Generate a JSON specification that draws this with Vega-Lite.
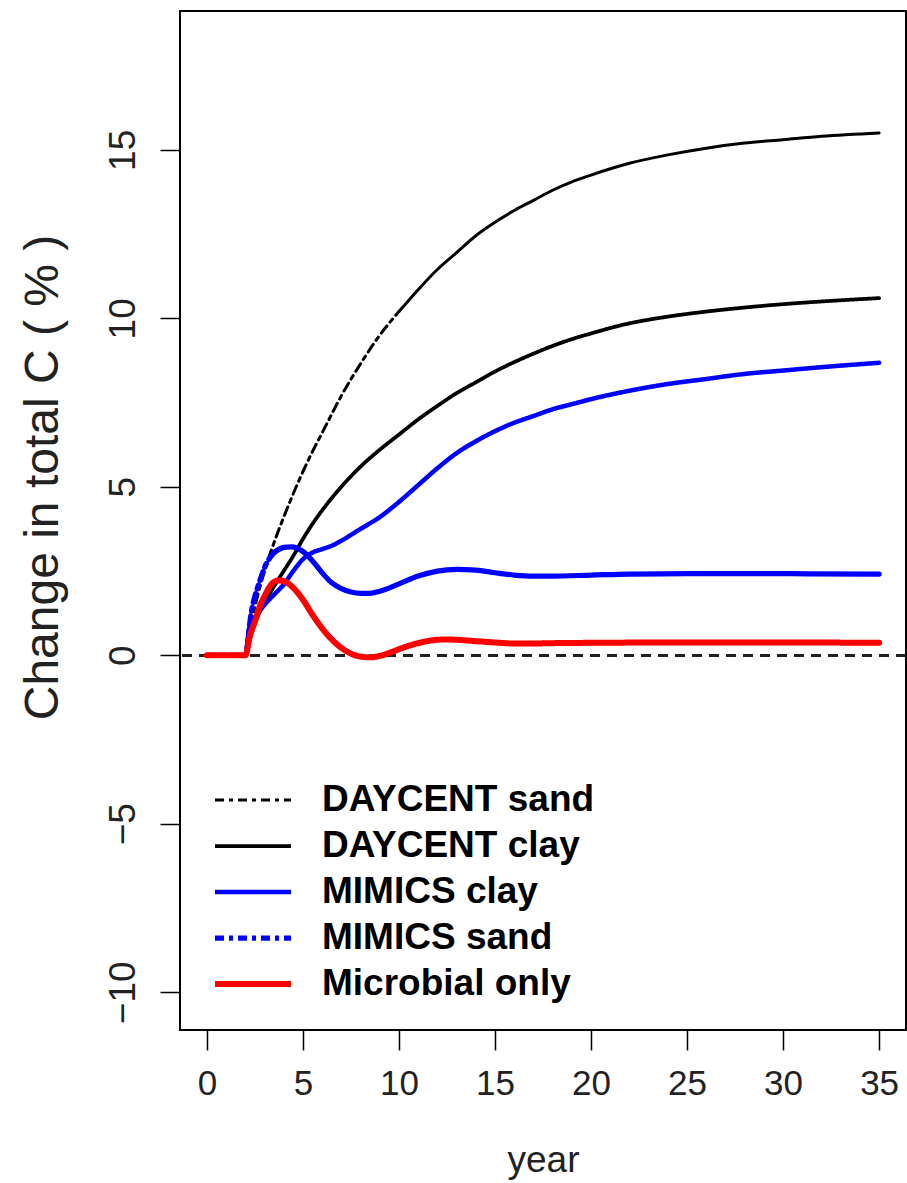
{
"$schema": "https://vega.github.io/schema/vega-lite/v6.json",
"width": 726, "height": 1019,
"autosize": {"type": "none"},
"padding": {"left": 180, "top": 11, "right": 1, "bottom": 153},
"background": "white",
"config": {"view": {"stroke": "black", "strokeWidth": 2}, "font": "Liberation Sans"},
"data": {"values": [
{"s":"DAYCENT sand","g":"a","x":0,"y":0},{"s":"DAYCENT sand","g":"a","x":1,"y":0},{"s":"DAYCENT sand","g":"a","x":2,"y":0},{"s":"DAYCENT sand","g":"a","x":2.25,"y":0.8},{"s":"DAYCENT sand","g":"a","x":2.5,"y":1.45},{"s":"DAYCENT sand","g":"a","x":2.75,"y":2.0},{"s":"DAYCENT sand","g":"a","x":3,"y":2.5},{"s":"DAYCENT sand","g":"a","x":3.5,"y":3.35},{"s":"DAYCENT sand","g":"a","x":4,"y":4.1},{"s":"DAYCENT sand","g":"a","x":4.5,"y":4.8},{"s":"DAYCENT sand","g":"a","x":5,"y":5.45},{"s":"DAYCENT sand","g":"a","x":5.5,"y":6.05},{"s":"DAYCENT sand","g":"a","x":6,"y":6.6},{"s":"DAYCENT sand","g":"a","x":7,"y":7.7},{"s":"DAYCENT sand","g":"a","x":8,"y":8.65},{"s":"DAYCENT sand","g":"a","x":9,"y":9.5},{"s":"DAYCENT sand","g":"a","x":10,"y":10.2},
{"s":"DAYCENT sand","g":"b","x":10,"y":10.2},{"s":"DAYCENT sand","g":"b","x":11,"y":10.85},{"s":"DAYCENT sand","g":"b","x":12,"y":11.45},{"s":"DAYCENT sand","g":"b","x":13,"y":11.95},{"s":"DAYCENT sand","g":"b","x":14,"y":12.45},{"s":"DAYCENT sand","g":"b","x":15,"y":12.85},{"s":"DAYCENT sand","g":"b","x":16,"y":13.2},{"s":"DAYCENT sand","g":"b","x":17,"y":13.5},{"s":"DAYCENT sand","g":"b","x":18,"y":13.8},{"s":"DAYCENT sand","g":"b","x":19,"y":14.05},{"s":"DAYCENT sand","g":"b","x":20,"y":14.25},{"s":"DAYCENT sand","g":"b","x":22,"y":14.6},{"s":"DAYCENT sand","g":"b","x":24,"y":14.85},{"s":"DAYCENT sand","g":"b","x":26,"y":15.05},{"s":"DAYCENT sand","g":"b","x":28,"y":15.2},{"s":"DAYCENT sand","g":"b","x":30,"y":15.3},{"s":"DAYCENT sand","g":"b","x":32,"y":15.4},{"s":"DAYCENT sand","g":"b","x":35,"y":15.5},
{"s":"DAYCENT clay","g":"a","x":0,"y":0},{"s":"DAYCENT clay","g":"a","x":1,"y":0},{"s":"DAYCENT clay","g":"a","x":2,"y":0},{"s":"DAYCENT clay","g":"a","x":2.25,"y":0.5},{"s":"DAYCENT clay","g":"a","x":2.5,"y":0.95},{"s":"DAYCENT clay","g":"a","x":3,"y":1.55},{"s":"DAYCENT clay","g":"a","x":3.5,"y":2.05},{"s":"DAYCENT clay","g":"a","x":4,"y":2.5},{"s":"DAYCENT clay","g":"a","x":4.5,"y":2.95},{"s":"DAYCENT clay","g":"a","x":5,"y":3.45},{"s":"DAYCENT clay","g":"a","x":5.5,"y":3.9},{"s":"DAYCENT clay","g":"a","x":6,"y":4.3},{"s":"DAYCENT clay","g":"a","x":7,"y":5.0},{"s":"DAYCENT clay","g":"a","x":8,"y":5.6},{"s":"DAYCENT clay","g":"a","x":9,"y":6.1},{"s":"DAYCENT clay","g":"a","x":10,"y":6.55},{"s":"DAYCENT clay","g":"a","x":11,"y":7.0},{"s":"DAYCENT clay","g":"a","x":12,"y":7.4},{"s":"DAYCENT clay","g":"a","x":13,"y":7.78},{"s":"DAYCENT clay","g":"a","x":14,"y":8.1},{"s":"DAYCENT clay","g":"a","x":15,"y":8.42},{"s":"DAYCENT clay","g":"a","x":16,"y":8.7},{"s":"DAYCENT clay","g":"a","x":17,"y":8.95},{"s":"DAYCENT clay","g":"a","x":18,"y":9.18},{"s":"DAYCENT clay","g":"a","x":19,"y":9.38},{"s":"DAYCENT clay","g":"a","x":20,"y":9.55},{"s":"DAYCENT clay","g":"a","x":22,"y":9.85},{"s":"DAYCENT clay","g":"a","x":24,"y":10.05},{"s":"DAYCENT clay","g":"a","x":26,"y":10.2},{"s":"DAYCENT clay","g":"a","x":28,"y":10.32},{"s":"DAYCENT clay","g":"a","x":30,"y":10.42},{"s":"DAYCENT clay","g":"a","x":32,"y":10.5},{"s":"DAYCENT clay","g":"a","x":35,"y":10.6},
{"s":"MIMICS clay","g":"a","x":0,"y":0},{"s":"MIMICS clay","g":"a","x":1,"y":0},{"s":"MIMICS clay","g":"a","x":2,"y":0},{"s":"MIMICS clay","g":"a","x":2.2,"y":0.8},{"s":"MIMICS clay","g":"a","x":2.5,"y":1.1},{"s":"MIMICS clay","g":"a","x":3,"y":1.5},{"s":"MIMICS clay","g":"a","x":3.5,"y":1.8},{"s":"MIMICS clay","g":"a","x":4,"y":2.1},{"s":"MIMICS clay","g":"a","x":4.5,"y":2.5},{"s":"MIMICS clay","g":"a","x":5,"y":2.85},{"s":"MIMICS clay","g":"a","x":5.5,"y":3.05},{"s":"MIMICS clay","g":"a","x":6,"y":3.15},{"s":"MIMICS clay","g":"a","x":6.5,"y":3.25},{"s":"MIMICS clay","g":"a","x":7,"y":3.4},{"s":"MIMICS clay","g":"a","x":8,"y":3.75},{"s":"MIMICS clay","g":"a","x":9,"y":4.1},{"s":"MIMICS clay","g":"a","x":10,"y":4.55},{"s":"MIMICS clay","g":"a","x":11,"y":5.05},{"s":"MIMICS clay","g":"a","x":12,"y":5.55},{"s":"MIMICS clay","g":"a","x":13,"y":6.0},{"s":"MIMICS clay","g":"a","x":14,"y":6.35},{"s":"MIMICS clay","g":"a","x":15,"y":6.65},{"s":"MIMICS clay","g":"a","x":16,"y":6.9},{"s":"MIMICS clay","g":"a","x":17,"y":7.1},{"s":"MIMICS clay","g":"a","x":18,"y":7.3},{"s":"MIMICS clay","g":"a","x":19,"y":7.45},{"s":"MIMICS clay","g":"a","x":20,"y":7.6},{"s":"MIMICS clay","g":"a","x":22,"y":7.85},{"s":"MIMICS clay","g":"a","x":24,"y":8.05},{"s":"MIMICS clay","g":"a","x":26,"y":8.2},{"s":"MIMICS clay","g":"a","x":28,"y":8.35},{"s":"MIMICS clay","g":"a","x":30,"y":8.45},{"s":"MIMICS clay","g":"a","x":32,"y":8.55},{"s":"MIMICS clay","g":"a","x":35,"y":8.68},
{"s":"MIMICS sand","g":"a","x":0,"y":0},{"s":"MIMICS sand","g":"a","x":1,"y":0},{"s":"MIMICS sand","g":"a","x":2,"y":0},{"s":"MIMICS sand","g":"a","x":2.3,"y":1.24},{"s":"MIMICS sand","g":"a","x":2.75,"y":2.2},{"s":"MIMICS sand","g":"a","x":3,"y":2.6},{"s":"MIMICS sand","g":"a","x":3.5,"y":3.05},
{"s":"MIMICS sand","g":"b","x":3.5,"y":3.05},{"s":"MIMICS sand","g":"b","x":4,"y":3.2},{"s":"MIMICS sand","g":"b","x":4.4,"y":3.22},{"s":"MIMICS sand","g":"b","x":5,"y":3.08},{"s":"MIMICS sand","g":"b","x":5.5,"y":2.8},{"s":"MIMICS sand","g":"b","x":6,"y":2.45},{"s":"MIMICS sand","g":"b","x":6.5,"y":2.15},{"s":"MIMICS sand","g":"b","x":7,"y":1.98},{"s":"MIMICS sand","g":"b","x":7.5,"y":1.88},{"s":"MIMICS sand","g":"b","x":8,"y":1.84},{"s":"MIMICS sand","g":"b","x":8.5,"y":1.84},{"s":"MIMICS sand","g":"b","x":9,"y":1.9},{"s":"MIMICS sand","g":"b","x":10,"y":2.12},{"s":"MIMICS sand","g":"b","x":11,"y":2.35},{"s":"MIMICS sand","g":"b","x":12,"y":2.5},{"s":"MIMICS sand","g":"b","x":13,"y":2.55},{"s":"MIMICS sand","g":"b","x":14,"y":2.53},{"s":"MIMICS sand","g":"b","x":15,"y":2.45},{"s":"MIMICS sand","g":"b","x":16,"y":2.38},{"s":"MIMICS sand","g":"b","x":17,"y":2.35},{"s":"MIMICS sand","g":"b","x":18,"y":2.35},{"s":"MIMICS sand","g":"b","x":20,"y":2.38},{"s":"MIMICS sand","g":"b","x":22,"y":2.41},{"s":"MIMICS sand","g":"b","x":25,"y":2.42},{"s":"MIMICS sand","g":"b","x":30,"y":2.42},{"s":"MIMICS sand","g":"b","x":35,"y":2.41},
{"s":"Microbial only","g":"a","x":0,"y":0},{"s":"Microbial only","g":"a","x":1,"y":0},{"s":"Microbial only","g":"a","x":2,"y":0},{"s":"Microbial only","g":"a","x":2.25,"y":0.6},{"s":"Microbial only","g":"a","x":2.5,"y":1.0},{"s":"Microbial only","g":"a","x":2.75,"y":1.45},{"s":"Microbial only","g":"a","x":3,"y":1.75},{"s":"Microbial only","g":"a","x":3.25,"y":2.02},{"s":"Microbial only","g":"a","x":3.5,"y":2.18},{"s":"Microbial only","g":"a","x":3.75,"y":2.22},{"s":"Microbial only","g":"a","x":4,"y":2.2},{"s":"Microbial only","g":"a","x":4.5,"y":2.0},{"s":"Microbial only","g":"a","x":5,"y":1.65},{"s":"Microbial only","g":"a","x":5.5,"y":1.2},{"s":"Microbial only","g":"a","x":6,"y":0.8},{"s":"Microbial only","g":"a","x":6.5,"y":0.47},{"s":"Microbial only","g":"a","x":7,"y":0.22},{"s":"Microbial only","g":"a","x":7.5,"y":0.05},{"s":"Microbial only","g":"a","x":8,"y":-0.04},{"s":"Microbial only","g":"a","x":8.5,"y":-0.06},{"s":"Microbial only","g":"a","x":9,"y":-0.02},{"s":"Microbial only","g":"a","x":9.5,"y":0.07},{"s":"Microbial only","g":"a","x":10,"y":0.18},{"s":"Microbial only","g":"a","x":10.5,"y":0.28},{"s":"Microbial only","g":"a","x":11,"y":0.36},{"s":"Microbial only","g":"a","x":11.5,"y":0.42},{"s":"Microbial only","g":"a","x":12,"y":0.46},{"s":"Microbial only","g":"a","x":12.5,"y":0.47},{"s":"Microbial only","g":"a","x":13,"y":0.46},{"s":"Microbial only","g":"a","x":14,"y":0.42},{"s":"Microbial only","g":"a","x":15,"y":0.38},{"s":"Microbial only","g":"a","x":16,"y":0.35},{"s":"Microbial only","g":"a","x":17,"y":0.35},{"s":"Microbial only","g":"a","x":18,"y":0.36},{"s":"Microbial only","g":"a","x":20,"y":0.37},{"s":"Microbial only","g":"a","x":25,"y":0.38},{"s":"Microbial only","g":"a","x":30,"y":0.38},{"s":"Microbial only","g":"a","x":35,"y":0.37}
]},
"layer": [
{"mark": {"type": "rule", "strokeDash": [10, 7], "strokeWidth": 2, "color": "#222222"},
 "encoding": {"y": {"datum": 0, "type": "quantitative"}}},
{"transform": [{"filter": "datum.g == 'a'"}],
 "mark": {"type": "line", "interpolate": "monotone", "strokeCap": "round", "strokeJoin": "round"},
 "encoding": {
  "x": {"field": "x", "type": "quantitative",
   "scale": {"domain": [-1.4, 36.4], "nice": false, "zero": false},
   "axis": {"values": [0,5,10,15,20,25,30,35], "domain": false, "grid": false, "tickColor": "#000", "tickSize": 20, "tickWidth": 1.5,
    "labelFont": "Liberation Sans", "labelFontSize": 35, "labelColor": "#222", "labelPadding": 16,
    "title": "year", "titleFont": "Liberation Sans", "titleFontSize": 37, "titleFontWeight": "normal", "titleColor": "#222",
    "titleY": 141, "titleBaseline": "alphabetic"}},
  "y": {"field": "y", "type": "quantitative",
   "scale": {"domain": [-11.12, 19.12], "nice": false, "zero": false},
   "axis": {"values": [-10,-5,0,5,10,15], "domain": false, "grid": false, "tickColor": "#000", "tickSize": 20, "tickWidth": 1.5,
    "labelFont": "Liberation Sans", "labelFontSize": 37, "labelColor": "#222", "labelPadding": 18, "labelAngle": 270, "labelAlign": "center", "labelBaseline": "bottom",
    "title": "Change in total C ( % )", "titleFont": "Liberation Sans", "titleFontSize": 48, "titleFontWeight": "normal", "titleColor": "#222",
    "titleAngle": 270, "titleX": -123, "titleY": 466, "titleAlign": "center", "titleBaseline": "alphabetic"}},
  "color": {"field": "s", "type": "nominal",
   "scale": {"domain": ["DAYCENT sand","DAYCENT clay","MIMICS clay","MIMICS sand","Microbial only"], "range": ["#000000","#000000","#0000ff","#0000ff","#ff0000"]},
   "legend": {"orient": "none", "legendX": 32, "legendY": 766, "title": null, "symbolType": "stroke", "symbolSize": 5776, "clipHeight": 46,
    "labelFont": "Liberation Sans", "labelFontWeight": "bold", "labelFontSize": 37, "labelColor": "#000", "labelOffset": 28, "labelLimit": 500, "padding": 0, "rowPadding": 0}},
  "strokeDash": {"field": "s", "type": "nominal",
   "scale": {"domain": ["DAYCENT sand","DAYCENT clay","MIMICS clay","MIMICS sand","Microbial only"], "range": [[9,5,4,5],[1,0],[1,0],[9,5,4,5],[1,0]]}},
  "strokeWidth": {"field": "s", "type": "nominal",
   "scale": {"domain": ["DAYCENT sand","DAYCENT clay","MIMICS clay","MIMICS sand","Microbial only"], "range": [3,6,5.5,3,5.5]}}
 }},
{"transform": [{"filter": "datum.g == 'b'"}],
 "mark": {"type": "line", "interpolate": "monotone", "strokeCap": "round", "strokeJoin": "round"},
 "encoding": {
  "x": {"field": "x", "type": "quantitative"},
  "y": {"field": "y", "type": "quantitative"},
  "color": {"field": "s", "type": "nominal", "legend": null},
  "strokeWidth": {"field": "s", "type": "nominal", "legend": null}
 }}
]
}
